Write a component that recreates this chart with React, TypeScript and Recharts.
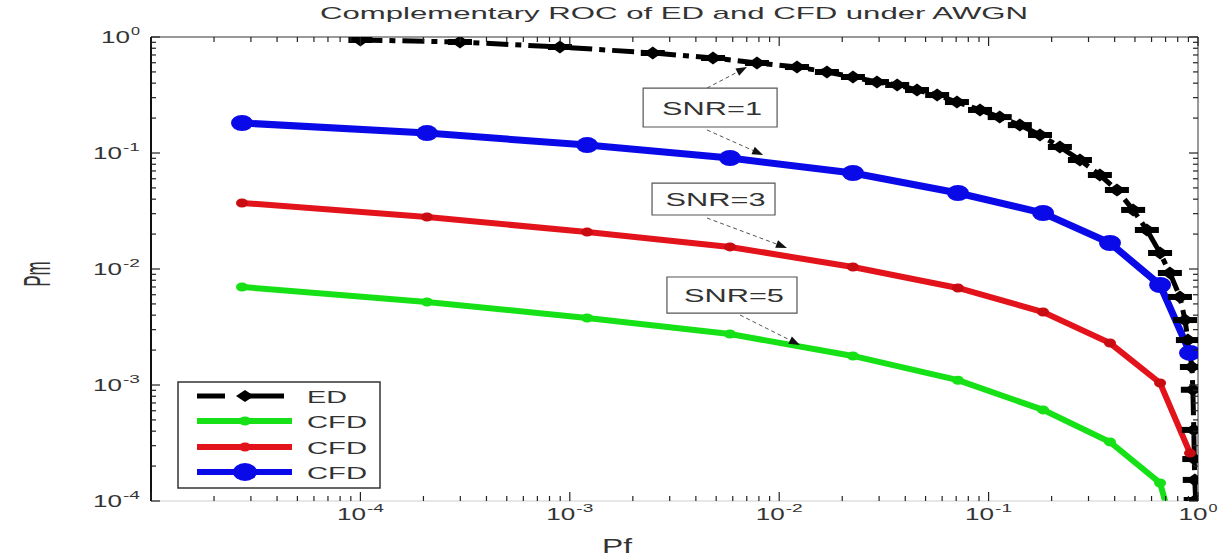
import React from 'react';
import { LineChart, Line, XAxis, YAxis, ReferenceArea, ReferenceLine } from 'recharts';

const W = 1225;
const H = 556;
const FONT = '"Liberation Sans", Arial, Helvetica, sans-serif';
const TEXT = '#333';

// ---- data ----
const ED_PF = [1.0e-4, 2.99e-4, 8.97e-4, 2.49e-3, 4.83e-3, 7.83e-3, 0.01216, 0.0169, 0.0225, 0.0293, 0.0366, 0.0455, 0.0568, 0.0706, 0.091, 0.113, 0.141, 0.176, 0.219, 0.273, 0.34, 0.41, 0.49, 0.57, 0.659, 0.734, 0.82, 0.867, 0.895, 0.935, 0.945, 0.955, 0.96, 0.965, 0.975];
const ED_PM = [0.943, 0.906, 0.82, 0.728, 0.659, 0.597, 0.551, 0.499, 0.452, 0.409, 0.386, 0.349, 0.316, 0.275, 0.235, 0.204, 0.174, 0.143, 0.1127, 0.087, 0.0646, 0.048, 0.0323, 0.0217, 0.01374, 0.00924, 0.00574, 0.00363, 0.00244, 0.00143, 0.00091, 0.00041, 0.00023, 0.000152, 0.000102];

const CFD_PF = [2.72e-5, 2.08e-4, 1.21e-3, 5.82e-3, 0.0225, 0.0714, 0.182, 0.38, 0.659, 0.916];
const CFD_SNR1_PM = [0.1815, 0.1486, 0.117, 0.0905, 0.0672, 0.0452, 0.0304, 0.01676, 0.00728, 0.00189];
const CFD_SNR3_PM = [0.0371, 0.0281, 0.0208, 0.0155, 0.0104, 0.00686, 0.00426, 0.0023, 0.00104, 0.000259];
const CFD_SNR5_PM = [0.007, 0.0052, 0.00378, 0.00275, 0.00178, 0.0011, 0.00061, 0.000323, 0.000143, 0.000017];

const X_DECADES = [-5, -4, -3, -2, -1];
const Y_DECADES = [-4, -3, -2, -1];
const MULTS = [1, 2, 3, 4, 5, 6, 7, 8, 9];
const X_DOMAIN = [1e-5, 1];
const Y_DOMAIN = [1e-4, 1];

const X_TICKS = [...X_DECADES.flatMap((d) => MULTS.map((m) => Number(`${m}e${d}`))), 1];
const Y_TICKS = [...Y_DECADES.flatMap((d) => MULTS.map((m) => Number(`${m}e${d}`))), 1];

// annotations (data coordinates)
const NOTES = [
  { text: 'SNR=1', box: [2.24e-3, 9.77e-3, 0.1676, 0.363], arrows: [[4.52e-3, 0.363, 7.02e-3, 0.551], [4.52e-3, 0.158, 8.38e-3, 0.0961]] },
  { text: 'SNR=3', box: [2.47e-3, 9.55e-3, 0.0292, 0.0551], arrows: [[4.52e-3, 0.0275, 0.01089, 0.0152]] },
  { text: 'SNR=5', box: [2.91e-3, 0.01216, 0.00417, 0.00853], arrows: [[6.5e-3, 0.00401, 0.01256, 0.00221]] },
];

const COLORS = { ed: '#000000', green: '#16e016', red: '#e3131b', blue: '#0a0ae8' };

const toPts = (xs: number[], ys: number[]) => xs.map((x, i) => ({ x, y: ys[i] }));
const edData = toPts(ED_PF, ED_PM);
const greenData = toPts(CFD_PF, CFD_SNR5_PM);
const redData = toPts(CFD_PF, CFD_SNR3_PM);
const blueData = toPts(CFD_PF, CFD_SNR1_PM);

const isMajor = (v: number) => {
  const e = Math.log10(v);
  return Math.abs(e - Math.round(e)) < 1e-6;
};

const PowerLabel = ({ cx, baseline, exp, anchor }: any) => {
  const expStr = String(exp);
  const baseW = 29;
  const expW = expStr.length === 1 ? 9 : 17;
  const total = baseW + expW + 1;
  const start = anchor === 'middle' ? cx - total / 2 : cx - total;
  return (
    <g fill={TEXT} fontFamily={FONT}>
      <text x={start} y={baseline} fontSize={17} textLength={baseW} lengthAdjust="spacingAndGlyphs">10</text>
      <text x={start + baseW + 1} y={baseline - 8} fontSize={11} textLength={expW} lengthAdjust="spacingAndGlyphs">{expStr}</text>
    </g>
  );
};

const XTick = (props: any) => {
  const { x, y, payload, side } = props;
  const v = payload.value;
  const major = isMajor(v);
  const len = major ? 9 : 5;
  const dir = side === 'bottom' ? -1 : 1;
  const e = Math.round(Math.log10(v));
  return (
    <g>
      <line x1={x} x2={x} y1={y} y2={y + dir * len} stroke="#222" strokeWidth={1.2} />
      {side === 'bottom' && major && e > -5 ? <PowerLabel cx={x} baseline={y + 19} exp={e} anchor="middle" /> : null}
    </g>
  );
};

const YTick = (props: any) => {
  const { x, y, payload, side } = props;
  const v = payload.value;
  const major = isMajor(v);
  const len = major ? 9 : 5;
  const dir = side === 'left' ? 1 : -1;
  const e = Math.round(Math.log10(v));
  return (
    <g>
      <line x1={x} x2={x + dir * len} y1={y} y2={y} stroke="#222" strokeWidth={1.2} />
      {side === 'left' && major ? <PowerLabel cx={x - 11} baseline={y + 6} exp={e} anchor="end" /> : null}
    </g>
  );
};

const EdDot = (p: any) => {
  const { cx, cy, index } = p;
  if (cx == null || cy == null) return <g key={`ed${index}`} />;
  return (
    <g key={`ed${index}`}>
      <path d={`M${cx - 9},${cy} L${cx},${cy - 6.5} L${cx + 9},${cy} L${cx},${cy + 6.5} Z`} fill={COLORS.ed} />
      <rect x={cx - 12} y={cy - 3} width={24} height={6} fill={COLORS.ed} />
    </g>
  );
};

const makeEllipseDot = (color: string, rx: number, ry: number, prefix: string) => (p: any) => {
  const { cx, cy, index } = p;
  if (cx == null || cy == null) return <g key={`${prefix}${index}`} />;
  return <ellipse key={`${prefix}${index}`} cx={cx} cy={cy} rx={rx} ry={ry} fill={color} />;
};

const BoxText = (props: any) => {
  const { viewBox, text } = props;
  if (!viewBox) return null;
  const { x, y, width, height } = viewBox;
  return (
    <text x={x + width / 2 + 2} y={y + height / 2 + 7} textAnchor="middle" fontSize={18} fontFamily={FONT} fill={TEXT} textLength={100} lengthAdjust="spacingAndGlyphs">
      {text}
    </text>
  );
};

const Arrow = (props: any) => {
  const { x1, y1, x2, y2 } = props;
  if ([x1, y1, x2, y2].some((v) => v == null || Number.isNaN(v))) return <g />;
  const ang = Math.atan2(y2 - y1, x2 - x1);
  const L = 11;
  const Wd = 4;
  const bx = x2 - L * Math.cos(ang);
  const by = y2 - L * Math.sin(ang);
  const px = -Math.sin(ang) * Wd;
  const py = Math.cos(ang) * Wd;
  return (
    <g>
      <line x1={x1} y1={y1} x2={bx} y2={by} stroke="#555" strokeWidth={1} strokeDasharray="4 3" />
      <polygon points={`${x2},${y2} ${bx + px},${by + py} ${bx - px},${by - py}`} fill="#111" />
    </g>
  );
};

const LegendOverlay = () => {
  const x0 = 178;
  const y0 = 382;
  const rows = [
    { name: 'ED', color: COLORS.ed, kind: 'ed', y: 396, tl: 40 },
    { name: 'CFD', color: COLORS.green, kind: 'small', y: 421, tl: 60 },
    { name: 'CFD', color: COLORS.red, kind: 'small', y: 447, tl: 60 },
    { name: 'CFD', color: COLORS.blue, kind: 'big', y: 472, tl: 60 },
  ];
  return (
    <g>
      <rect x={x0} y={y0} width={202} height={106} fill="#fff" stroke="#333" strokeWidth={1.5} />
      {rows.map((r, i) => (
        <g key={i}>
          {r.kind === 'ed' ? (
            <g>
              <line x1={197} x2={225} y1={r.y} y2={r.y} stroke={r.color} strokeWidth={5} />
              <line x1={240} x2={284} y1={r.y} y2={r.y} stroke={r.color} strokeWidth={5} />
              <path d={`M${236},${r.y} L${245},${r.y - 6} L${254},${r.y} L${245},${r.y + 6} Z`} fill={r.color} />
            </g>
          ) : (
            <g>
              <line x1={197} x2={292} y1={r.y} y2={r.y} stroke={r.color} strokeWidth={6} />
              {r.kind === 'big' ? (
                <ellipse cx={245} cy={r.y} rx={12} ry={9} fill={r.color} />
              ) : (
                <ellipse cx={245} cy={r.y} rx={6} ry={4.5} fill={r.color} />
              )}
            </g>
          )}
          <text x={307} y={r.y + 7} fontSize={17} fontFamily={FONT} fill={TEXT} textLength={r.tl} lengthAdjust="spacingAndGlyphs">
            {r.name}
          </text>
        </g>
      ))}
    </g>
  );
};

export default function App() {
  return (
    <div style={{ position: 'absolute', left: 0, top: 0, width: W, height: H, background: '#fff' }}>
      <LineChart width={W} height={H} margin={{ top: 36, right: 26, bottom: 54, left: 150 }}>
        <XAxis
          type="number"
          dataKey="x"
          scale="log"
          domain={X_DOMAIN}
          allowDataOverflow
          ticks={X_TICKS}
          interval={0}
          height={1}
          tickSize={0}
          tickMargin={0}
          tickLine={false}
          axisLine={{ stroke: '#cfcfcf', strokeWidth: 1 }}
          tick={(p: any) => <XTick {...p} side="bottom" />}
        />
        <XAxis
          xAxisId="top"
          orientation="top"
          type="number"
          dataKey="x"
          scale="log"
          domain={X_DOMAIN}
          allowDataOverflow
          ticks={X_TICKS}
          interval={0}
          height={1}
          tickSize={0}
          tickMargin={0}
          tickLine={false}
          axisLine={{ stroke: '#777', strokeWidth: 1.5 }}
          tick={(p: any) => <XTick {...p} side="top" />}
        />
        <YAxis
          type="number"
          scale="log"
          domain={Y_DOMAIN}
          allowDataOverflow
          ticks={Y_TICKS}
          interval={0}
          width={1}
          tickSize={0}
          tickMargin={0}
          tickLine={false}
          axisLine={{ stroke: '#111', strokeWidth: 2 }}
          tick={(p: any) => <YTick {...p} side="left" />}
        />
        <YAxis
          yAxisId="right"
          orientation="right"
          type="number"
          scale="log"
          domain={Y_DOMAIN}
          allowDataOverflow
          ticks={Y_TICKS}
          interval={0}
          width={1}
          tickSize={0}
          tickMargin={0}
          tickLine={false}
          axisLine={{ stroke: '#777', strokeWidth: 1.5 }}
          tick={(p: any) => <YTick {...p} side="right" />}
        />

        <Line
          data={edData}
          dataKey="y"
          name="ED"
          stroke={COLORS.ed}
          strokeWidth={5}
          strokeDasharray="22 7 6 7"
          dot={EdDot}
          activeDot={false}
          isAnimationActive={false}
        />
        <Line
          data={greenData}
          dataKey="y"
          name="CFD"
          stroke={COLORS.green}
          strokeWidth={6}
          dot={makeEllipseDot(COLORS.green, 6, 4.5, 'g')}
          activeDot={false}
          isAnimationActive={false}
        />
        <Line
          data={redData}
          dataKey="y"
          name="CFD"
          stroke={COLORS.red}
          strokeWidth={6}
          dot={makeEllipseDot('#c80c12', 6, 4.5, 'r')}
          activeDot={false}
          isAnimationActive={false}
        />
        <Line
          data={blueData}
          dataKey="y"
          name="CFD"
          stroke={COLORS.blue}
          strokeWidth={7}
          dot={makeEllipseDot(COLORS.blue, 11, 8, 'b')}
          activeDot={false}
          isAnimationActive={false}
        />

        {NOTES.map((n, i) => (
          <ReferenceArea
            key={`box${i}`}
            x1={n.box[0]}
            x2={n.box[1]}
            y1={n.box[2]}
            y2={n.box[3]}
            fill="#fff"
            fillOpacity={0}
            stroke="#555"
            strokeWidth={1.2}
            ifOverflow="visible"
            label={<BoxText text={n.text} />}
          />
        ))}
        {NOTES.flatMap((n, i) =>
          n.arrows.map((a, j) => (
            <ReferenceLine
              key={`arr${i}-${j}`}
              segment={[{ x: a[0], y: a[1] }, { x: a[2], y: a[3] }]}
              ifOverflow="visible"
              shape={(p: any) => <Arrow {...p} />}
            />
          ))
        )}
      </LineChart>

      <svg width={W} height={H} style={{ position: 'absolute', left: 0, top: 0, pointerEvents: 'none' }}>
        <text x={674} y={19} textAnchor="middle" fontSize={17} fontFamily={FONT} fill={TEXT} textLength={708} lengthAdjust="spacingAndGlyphs">
          Complementary ROC of ED and CFD under AWGN
        </text>
        <text x={617} y={553} textAnchor="middle" fontSize={20} fontFamily={FONT} fill={TEXT} textLength={30} lengthAdjust="spacingAndGlyphs">
          Pf
        </text>
        <text transform="translate(50,274) rotate(-90) scale(1,2.2)" x={0} y={0} textAnchor="middle" fontSize={17} fontFamily={FONT} fill={TEXT}>
          Pm
        </text>
        <LegendOverlay />
      </svg>
    </div>
  );
}
